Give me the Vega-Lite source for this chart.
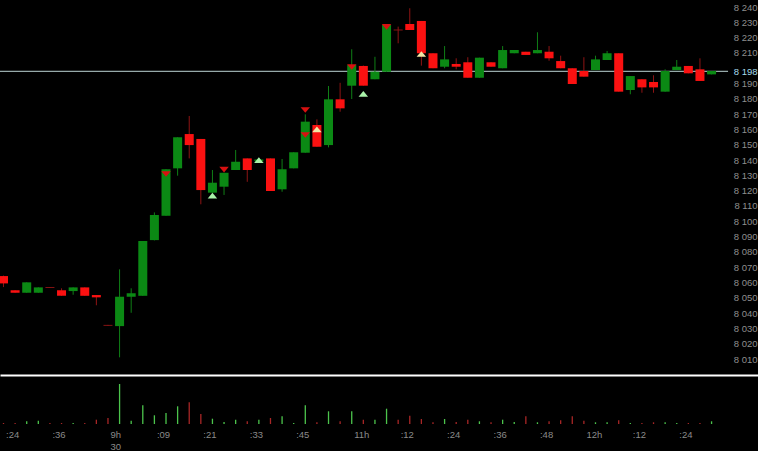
{
  "$schema": "https://vega.github.io/schema/vega-lite/v6.json",
  "background": "#000000",
  "padding": 0,
  "spacing": 3,
  "config": {"view": {"stroke": null}, "axis": {"grid": false, "labelOverlap": false, "labelBound": false, "labelFlush": false}, "axisY": {"labelOverlap": false}},
  "resolve": {"scale": {"color": "independent", "fill": "independent", "stroke": "independent", "shape": "independent"}},
  "datasets": {
    "bars": [
      {"i":0,"o":8064.2,"h":8064.5,"l":8057.0,"c":8059.4,"d":"down","v":100},
      {"i":1,"o":8054.9,"h":8055.0,"l":8053.3,"c":8053.3,"d":"down","v":100},
      {"i":2,"o":8053.3,"h":8060.1,"l":8053.3,"c":8060.1,"d":"up","v":270},
      {"i":3,"o":8053.3,"h":8056.8,"l":8053.3,"c":8056.8,"d":"up","v":330},
      {"i":4,"o":8057.0,"h":8057.0,"l":8056.4,"c":8056.4,"d":"flat","v":100},
      {"i":5,"o":8054.9,"h":8056.2,"l":8051.3,"c":8051.3,"d":"down","v":100},
      {"i":6,"o":8054.4,"h":8056.8,"l":8052.0,"c":8056.8,"d":"up","v":100},
      {"i":7,"o":8056.8,"h":8056.8,"l":8051.3,"c":8051.3,"d":"down","v":100},
      {"i":8,"o":8051.8,"h":8051.8,"l":8045.1,"c":8050.3,"d":"down","v":430},
      {"i":9,"o":8032.3,"h":8032.3,"l":8031.7,"c":8031.7,"d":"flat","v":600},
      {"i":10,"o":8031.5,"h":8068.6,"l":8011.1,"c":8050.7,"d":"up","v":4000},
      {"i":11,"o":8050.7,"h":8056.2,"l":8040.2,"c":8052.9,"d":"up","v":330},
      {"i":12,"o":8051.3,"h":8087.1,"l":8051.3,"c":8087.1,"d":"up","v":1870},
      {"i":13,"o":8087.7,"h":8105.8,"l":8087.5,"c":8104.1,"d":"up","v":870},
      {"i":14,"o":8103.6,"h":8134.0,"l":8103.6,"c":8134.0,"d":"up","v":1100},
      {"i":15,"o":8134.6,"h":8154.9,"l":8129.8,"c":8154.9,"d":"up","v":1770},
      {"i":16,"o":8157.0,"h":8168.8,"l":8141.1,"c":8149.8,"d":"down","v":2170},
      {"i":17,"o":8153.8,"h":8153.8,"l":8111.1,"c":8120.4,"d":"down","v":1000},
      {"i":18,"o":8118.7,"h":8133.5,"l":8118.7,"c":8125.2,"d":"up","v":530},
      {"i":19,"o":8122.6,"h":8131.7,"l":8117.2,"c":8131.7,"d":"up","v":200},
      {"i":20,"o":8133.5,"h":8146.6,"l":8133.5,"c":8138.9,"d":"up","v":430},
      {"i":21,"o":8141.1,"h":8141.1,"l":8125.8,"c":8133.5,"d":"down","v":270},
      {"i":22,"o":8139.2,"h":8140.6,"l":8139.0,"c":8140.4,"d":"up","v":430},
      {"i":23,"o":8141.1,"h":8141.1,"l":8119.8,"c":8119.8,"d":"down","v":600},
      {"i":24,"o":8120.9,"h":8140.7,"l":8119.3,"c":8134.0,"d":"up","v":770},
      {"i":25,"o":8134.6,"h":8145.1,"l":8134.6,"c":8145.1,"d":"up","v":100},
      {"i":26,"o":8144.8,"h":8169.9,"l":8144.8,"c":8165.1,"d":"up","v":1870},
      {"i":27,"o":8162.9,"h":8166.6,"l":8148.7,"c":8148.7,"d":"down","v":170},
      {"i":28,"o":8149.8,"h":8188.4,"l":8148.3,"c":8179.7,"d":"up","v":1270},
      {"i":29,"o":8179.7,"h":8190.5,"l":8171.6,"c":8173.8,"d":"down","v":270},
      {"i":30,"o":8188.6,"h":8212.4,"l":8179.9,"c":8202.1,"d":"up","v":1270},
      {"i":31,"o":8201.5,"h":8201.8,"l":8188.6,"c":8188.6,"d":"down","v":430},
      {"i":32,"o":8192.8,"h":8207.5,"l":8192.8,"c":8197.7,"d":"up","v":430},
      {"i":33,"o":8197.7,"h":8228.3,"l":8197.7,"c":8228.3,"d":"up","v":1530},
      {"i":34,"o":8225.3,"h":8227.2,"l":8216.3,"c":8224.7,"d":"flat","v":430},
      {"i":35,"o":8228.9,"h":8239.2,"l":8225.0,"c":8225.0,"d":"down","v":830},
      {"i":36,"o":8230.9,"h":8230.9,"l":8201.7,"c":8209.8,"d":"down","v":500},
      {"i":37,"o":8209.8,"h":8209.8,"l":8200.0,"c":8200.0,"d":"down","v":170},
      {"i":38,"o":8201.0,"h":8214.5,"l":8200.0,"c":8205.8,"d":"up","v":500},
      {"i":39,"o":8202.8,"h":8206.5,"l":8199.3,"c":8201.0,"d":"down","v":200},
      {"i":40,"o":8203.9,"h":8207.2,"l":8193.8,"c":8193.8,"d":"down","v":430},
      {"i":41,"o":8193.8,"h":8206.9,"l":8193.8,"c":8206.9,"d":"up","v":270},
      {"i":42,"o":8203.9,"h":8203.9,"l":8201.0,"c":8201.0,"d":"down","v":170},
      {"i":43,"o":8200.0,"h":8214.5,"l":8200.0,"c":8211.9,"d":"up","v":430},
      {"i":44,"o":8209.8,"h":8211.9,"l":8209.8,"c":8211.9,"d":"up","v":200},
      {"i":45,"o":8210.8,"h":8210.8,"l":8208.7,"c":8208.7,"d":"down","v":770},
      {"i":46,"o":8209.8,"h":8223.5,"l":8209.8,"c":8211.9,"d":"up","v":170},
      {"i":47,"o":8210.8,"h":8214.5,"l":8204.9,"c":8206.5,"d":"down","v":270},
      {"i":48,"o":8204.7,"h":8208.2,"l":8200.0,"c":8200.0,"d":"down","v":370},
      {"i":49,"o":8200.0,"h":8200.0,"l":8189.7,"c":8189.7,"d":"down","v":770},
      {"i":50,"o":8198.2,"h":8207.2,"l":8194.5,"c":8194.5,"d":"down","v":330},
      {"i":51,"o":8198.8,"h":8208.2,"l":8198.8,"c":8205.8,"d":"up","v":170},
      {"i":52,"o":8205.4,"h":8211.3,"l":8205.4,"c":8209.8,"d":"up","v":170},
      {"i":53,"o":8209.8,"h":8209.8,"l":8184.7,"c":8184.7,"d":"down","v":370},
      {"i":54,"o":8185.8,"h":8194.9,"l":8183.0,"c":8194.9,"d":"up","v":100},
      {"i":55,"o":8192.8,"h":8192.8,"l":8184.0,"c":8187.5,"d":"down","v":100},
      {"i":56,"o":8191.0,"h":8195.4,"l":8184.0,"c":8187.5,"d":"down","v":170},
      {"i":57,"o":8184.7,"h":8199.3,"l":8184.7,"c":8198.2,"d":"up","v":170},
      {"i":58,"o":8198.8,"h":8205.4,"l":8198.8,"c":8201.0,"d":"up","v":100},
      {"i":59,"o":8201.5,"h":8201.5,"l":8196.7,"c":8196.7,"d":"down","v":100},
      {"i":60,"o":8199.3,"h":8206.5,"l":8191.7,"c":8191.7,"d":"down","v":100},
      {"i":61,"o":8196.0,"h":8198.2,"l":8196.0,"c":8198.2,"d":"up","v":270}
    ],
    "sig": [
      {"i":14,"p":8130.9,"t":"down"},
      {"i":18,"p":8116.8,"t":"up"},
      {"i":19,"p":8133.8,"t":"down"},
      {"i":22,"p":8140.0,"t":"up"},
      {"i":26,"p":8172.7,"t":"down"},
      {"i":26,"p":8156.4,"t":"down"},
      {"i":27,"p":8160.0,"t":"alt"},
      {"i":30,"p":8200.8,"t":"down"},
      {"i":31,"p":8183.2,"t":"up"},
      {"i":33,"p":8227.0,"t":"down"},
      {"i":36,"p":8209.3,"t":"alt"}
    ],
    "last": [{"price": 8198, "i0": -0.3015, "i1": 62.42}]
  },
  "vconcat": [
    {
      "width": 758,
      "height": 375,
      "layer": [
        {
          "data": {"name": "last"},
          "mark": {"type": "rule", "color": "#bcd4d4", "strokeWidth": 1, "clip": true},
          "encoding": {
            "x": {"field": "i0", "type": "quantitative", "title": null,
                  "scale": {"domain": [-0.3015, 65.0], "nice": false, "zero": false, "padding": 0},
                  "axis": {"labels": false, "ticks": false, "grid": false, "domain": true, "domainColor": "#ffffff", "domainWidth": 2}},
            "x2": {"field": "i1"},
            "y": {"field": "price", "type": "quantitative", "title": null,
                  "scale": {"domain": [7999.55, 8244.6], "nice": false, "zero": false, "padding": 0},
                  "axis": {"orient": "right", "values": [8010,8020,8030,8040,8050,8060,8070,8080,8090,8100,8110,8120,8130,8140,8150,8160,8170,8180,8190,8198,8210,8220,8230,8240],
                           "labelExpr": "replace(format(datum.value, ',d'), ',', ' ')",
                           "ticks": false, "domain": false, "grid": false, "labelPadding": -1, "labelAlign": "right",
                           "labelFont": "Liberation Sans", "labelFontSize": 9.5,
                           "labelColor": {"condition": {"test": "datum.value == 8198", "value": "#a6dcec"}, "value": "#8e8e8e"},
                           "labelBound": false, "labelOverlap": false, "labelFlush": false, "labelSeparation": 0}}
          }
        },
        {
          "data": {"name": "bars"},
          "mark": {"type": "rule", "strokeWidth": 1, "clip": true},
          "encoding": {
            "x": {"field": "i", "type": "quantitative", "title": null},
            "y": {"field": "h", "type": "quantitative", "title": null,
                  "axis": {"orient": "right", "values": [8010,8020,8030,8040,8050,8060,8070,8080,8090,8100,8110,8120,8130,8140,8150,8160,8170,8180,8190,8198,8210,8220,8230,8240],
                           "labelExpr": "replace(format(datum.value, ',d'), ',', ' ')",
                           "ticks": false, "domain": false, "grid": false, "labelPadding": -1, "labelAlign": "right",
                           "labelFont": "Liberation Sans", "labelFontSize": 9.5,
                           "labelColor": {"condition": {"test": "datum.value == 8198", "value": "#a6dcec"}, "value": "#8e8e8e"},
                           "labelBound": false, "labelOverlap": false, "labelFlush": false, "labelSeparation": 0}},
            "y2": {"field": "l"},
            "stroke": {"field": "d", "type": "nominal", "legend": null,
                       "scale": {"domain": ["up", "down", "flat"], "range": ["#0f7f16", "#8f1414", "#8f1414"]}}
          }
        },
        {
          "data": {"name": "bars"},
          "mark": {"type": "bar", "size": 9, "clip": true},
          "encoding": {
            "x": {"field": "i", "type": "quantitative", "title": null},
            "y": {"field": "o", "type": "quantitative", "title": null,
                  "axis": {"orient": "right", "values": [8010,8020,8030,8040,8050,8060,8070,8080,8090,8100,8110,8120,8130,8140,8150,8160,8170,8180,8190,8198,8210,8220,8230,8240],
                           "labelExpr": "replace(format(datum.value, ',d'), ',', ' ')",
                           "ticks": false, "domain": false, "grid": false, "labelPadding": -1, "labelAlign": "right",
                           "labelFont": "Liberation Sans", "labelFontSize": 9.5,
                           "labelColor": {"condition": {"test": "datum.value == 8198", "value": "#a6dcec"}, "value": "#8e8e8e"},
                           "labelBound": false, "labelOverlap": false, "labelFlush": false, "labelSeparation": 0}},
            "y2": {"field": "c"},
            "fill": {"field": "d", "type": "nominal", "legend": null,
                     "scale": {"domain": ["up", "down", "flat"], "range": ["#0b8914", "#fb1111", "#8f1414"]}}
          }
        },
        {
          "data": {"name": "sig"},
          "mark": {"type": "point", "filled": true, "opacity": 1, "size": 90, "strokeWidth": 0, "clip": true},
          "encoding": {
            "x": {"field": "i", "type": "quantitative", "title": null},
            "y": {"field": "p", "type": "quantitative", "title": null,
                  "axis": {"orient": "right", "values": [8010,8020,8030,8040,8050,8060,8070,8080,8090,8100,8110,8120,8130,8140,8150,8160,8170,8180,8190,8198,8210,8220,8230,8240],
                           "labelExpr": "replace(format(datum.value, ',d'), ',', ' ')",
                           "ticks": false, "domain": false, "grid": false, "labelPadding": -1, "labelAlign": "right",
                           "labelFont": "Liberation Sans", "labelFontSize": 9.5,
                           "labelColor": {"condition": {"test": "datum.value == 8198", "value": "#a6dcec"}, "value": "#8e8e8e"},
                           "labelBound": false, "labelOverlap": false, "labelFlush": false, "labelSeparation": 0}},
            "color": {"field": "t", "type": "nominal", "legend": null,
                      "scale": {"domain": ["up", "alt", "down"], "range": ["#a9f2a9", "#f2e6a6", "#d81010"]}},
            "shape": {"field": "t", "type": "nominal", "legend": null,
                      "scale": {"domain": ["up", "alt", "down"], "range": ["M-1,0.6L1,0.6L0,-0.6Z", "M-1,0.6L1,0.6L0,-0.6Z", "M-1,-0.6L1,-0.6L0,0.6Z"]}}
          }
        }
      ]
    },
    {
      "width": 758,
      "height": 46,
      "data": {"name": "bars"},
      "mark": {"type": "rule", "strokeWidth": 1.3},
      "encoding": {
        "x": {"field": "i", "type": "quantitative", "title": null,
              "scale": {"domain": [-0.3015, 65.0], "nice": false, "zero": false, "padding": 0},
              "axis": {"values": [0,4,9,13,17,21,25,30,34,38,42,46,50,54,58],
                       "labelExpr": "datum.value == 9 ? ['9h','30'] : [':24',':36','',':09',':21',':33',':45','11h',':12',':24',':36',':48','12h',':12',':24'][indexof([0,4,9,13,17,21,25,30,34,38,42,46,50,54,58], datum.value)]",
                       "domain": false, "ticks": false, "grid": false, "labelAlign": "left", "labelBaseline": "top", "labelOffset": 2,
                       "labelPadding": 5, "labelLineHeight": 12, "labelFontSize": 9.5, "labelColor": "#8a8a8a",
                       "labelFont": "Liberation Sans",
                       "labelBound": false, "labelOverlap": false, "labelFlush": false}},
        "y": {"field": "v", "type": "quantitative", "title": null, "scale": {"domain": [0, 4600], "nice": false}, "axis": null},
        "y2": {"datum": 0},
        "color": {"field": "d", "type": "nominal", "legend": null,
                  "scale": {"domain": ["up", "down", "flat"], "range": ["#4cc44c", "#a82626", "#a82626"]}}
      }
    }
  ]
}
